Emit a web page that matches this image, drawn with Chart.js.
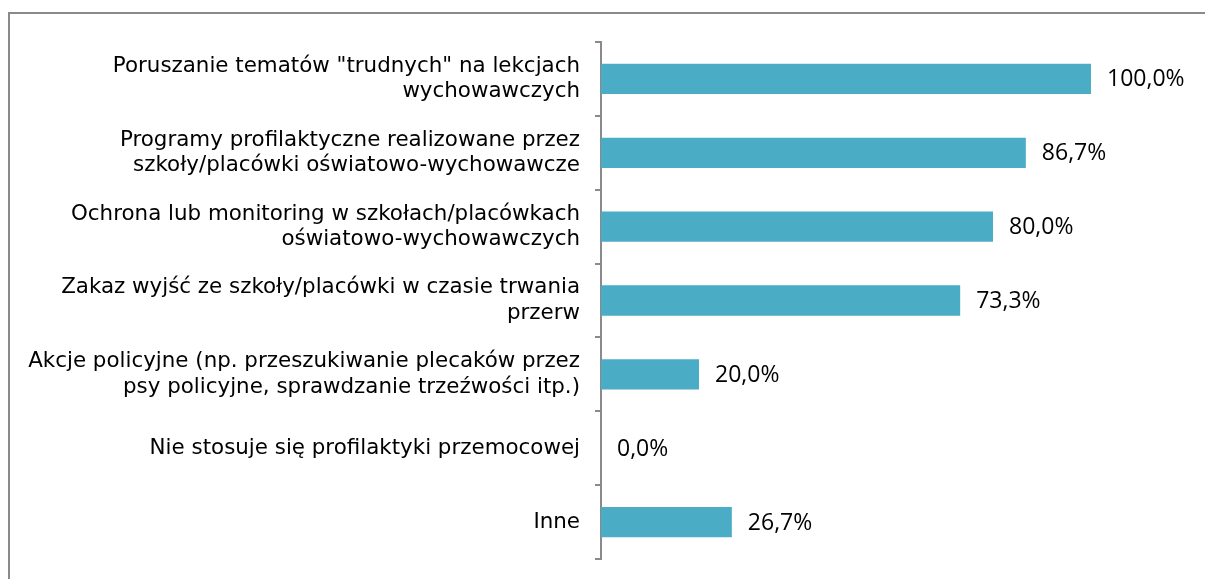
<!DOCTYPE html>
<html lang="pl">
<head>
<meta charset="UTF-8">
<title>Profilaktyka przemocy w szkołach</title>
<style>
  html, body { margin: 0; padding: 0; background: #fff; }
  .frame {
    position: absolute; left: 8px; top: 12px; right: -10px; bottom: -10px;
    border-left: 2px solid #8a8a8a; border-top: 2px solid #8a8a8a;
  }
  .wrap { position: absolute; left: 0; top: 0; width: 1205px; height: 579px; }
</style>
</head>
<body>
<div class="frame"></div>
<div class="wrap"><canvas id="chart" width="1205" height="579"></canvas></div>

<script src="https://cdn.jsdelivr.net/npm/chart.js"></script>
<script>
const categories = [
  ['Poruszanie tematów "trudnych" na lekcjach', 'wychowawczych'],
  ['Programy profilaktyczne realizowane przez', 'szkoły/placówki oświatowo-wychowawcze'],
  ['Ochrona lub monitoring w szkołach/placówkach', 'oświatowo-wychowawczych'],
  ['Zakaz wyjść ze szkoły/placówki w czasie trwania', 'przerw'],
  ['Akcje policyjne (np. przeszukiwanie plecaków przez', 'psy policyjne, sprawdzanie trzeźwości itp.)'],
  'Nie stosuje się profilaktyki przemocowej',
  'Inne'
];
const values = [100.0, 86.7, 80.0, 73.3, 20.0, 0.0, 26.7];
const barColor = '#4BACC6';

// value labels to the right of each bar, e.g. "86,7%"
const valueLabels = {
  id: 'valueLabels',
  afterDatasetsDraw(chart) {
    const ctx = chart.ctx;
    const meta = chart.getDatasetMeta(0);
    ctx.save();
    ctx.font = '23px "Open Sans", sans-serif';
    ctx.fillStyle = '#000';
    ctx.textBaseline = 'middle';
    ctx.textAlign = 'left';
    meta.data.forEach((bar, i) => {
      const txt = values[i].toFixed(1).replace('.', ',') + '%';
      ctx.fillText(txt, bar.x + 16, bar.y + 1);
    });
    ctx.restore();
  }
};

new Chart(document.getElementById('chart'), {
  type: 'bar',
  data: {
    labels: categories,
    datasets: [{
      data: values,
      backgroundColor: barColor,
      borderWidth: 0,
      barPercentage: 0.41,
      categoryPercentage: 1
    }]
  },
  options: {
    indexAxis: 'y',
    responsive: false,
    animation: false,
    layout: { padding: { top: 42, bottom: 20, right: 114, left: 0 } },
    plugins: { legend: { display: false }, tooltip: { enabled: false } },
    scales: {
      x: { display: false, min: 0, max: 100 },
      y: {
        afterFit(scale) {
          scale.width = 601;
          // multi-line labels would otherwise push the plot area up
          scale.paddingTop = 0;
          scale.paddingBottom = 0;
        },
        grid: {
          offset: true,
          drawOnChartArea: false,
          tickLength: 6,
          color: '#8a8a8a',
          lineWidth: 2
        },
        border: { color: '#8a8a8a', width: 2 },
        ticks: {
          color: '#000',
          padding: 15,
          font: { family: '"DejaVu Sans", Verdana, sans-serif', size: 21.4, lineHeight: 1.18 }
        }
      }
    }
  },
  plugins: [valueLabels]
});
</script>
</body>
</html>
